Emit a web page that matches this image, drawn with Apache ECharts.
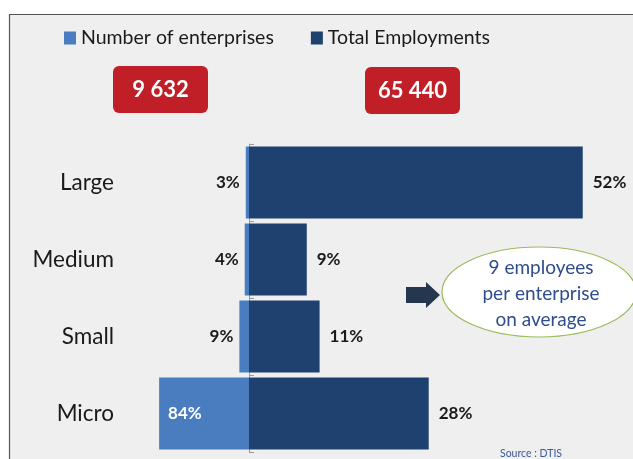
<!DOCTYPE html>
<html>
<head>
<meta charset="utf-8">
<script src="https://cdn.jsdelivr.net/npm/echarts@6/dist/echarts.min.js"></script>
<style>
  html, body { margin: 0; padding: 0; background: #ffffff; }
  #chart { width: 633px; height: 459px; }
</style>
</head>
<body>
<div id="chart"></div>
<script>
// Enterprise size classes, top to bottom
const categories = ['Large', 'Medium', 'Small', 'Micro'];
// Share of enterprises (%) per size class
const enterpriseShare = [3, 4, 9, 84];
// Share of total employment (%) per size class
const employmentShare = [52, 9, 11, 28];
// Headline totals shown under the legend
const totalEnterprises = '9 632';
const totalEmployments = '65 440';
const seriesNames = ['Number of enterprises', 'Total Employments'];
const noteLines = ['9 employees', 'per enterprise', 'on average'];
const sourceText = 'Source : DTIS';

const FONT = 'Lato, "Open Sans", sans-serif';
const LIGHT = '#4a7dc0';
const DARK = '#1e416f';
const TEXT = '#1a1a1a';

const chart = echarts.init(document.getElementById('chart'), null, { renderer: 'canvas' });

const gridTop = 144, gridBottom = 7;

const enterpriseData = enterpriseShare.map(function (v, i) {
  if (i === enterpriseShare.length - 1) {
    return { value: v, label: { position: 'insideLeft', color: '#ffffff', distance: 9 } };
  }
  return { value: v };
});

const option = {
  backgroundColor: '#ffffff',
  animation: false,
  textStyle: { fontFamily: FONT },
  legend: {
    top: 23,
    left: 59,
    icon: 'rect',
    itemWidth: 12,
    itemHeight: 13,
    itemGap: 37,
    textStyle: { fontSize: 19.5, color: TEXT, fontFamily: FONT },
    data: seriesNames
  },
  grid: [
    { left: 142, width: 107, top: gridTop, bottom: gridBottom },
    { left: 249, width: 353, top: gridTop, bottom: gridBottom }
  ],
  xAxis: [
    { gridIndex: 0, type: 'value', min: 0, max: 100, inverse: true, show: false },
    { gridIndex: 1, type: 'value', min: 0, max: 55, show: false }
  ],
  yAxis: [
    {
      gridIndex: 0, type: 'category', data: categories, inverse: true,
      axisLine: { show: false }, axisTick: { show: false },
      axisLabel: { margin: 28, fontSize: 22.5, color: TEXT, fontFamily: FONT }
    },
    {
      gridIndex: 1, type: 'category', data: categories, inverse: true, position: 'left',
      axisLine: { show: true, lineStyle: { color: '#9a9a9a', width: 1 } },
      axisTick: { show: true, inside: true, length: 5, lineStyle: { color: '#9a9a9a' } },
      axisLabel: { show: false }
    }
  ],
  series: [
    {
      name: seriesNames[0],
      type: 'bar',
      xAxisIndex: 0, yAxisIndex: 0,
      barCategoryGap: '6.5%',
      itemStyle: { color: LIGHT },
      label: {
        show: true, position: 'left', distance: 6,
        formatter: '{c}%', fontSize: 17, fontWeight: 'bold', color: TEXT, fontFamily: FONT
      },
      data: enterpriseData,
      z: 2
    },
    {
      name: seriesNames[1],
      type: 'bar',
      xAxisIndex: 1, yAxisIndex: 1,
      barCategoryGap: '6.5%',
      itemStyle: { color: DARK },
      label: {
        show: true, position: 'right', distance: 10,
        formatter: '{c}%', fontSize: 17, fontWeight: 'bold', color: TEXT, fontFamily: FONT
      },
      data: employmentShare,
      z: 3
    }
  ],
  graphic: [
    // panel background and frame
    {
      type: 'rect', z: -100, silent: true,
      shape: { x: 9.5, y: 14.5, width: 660, height: 480 },
      style: { fill: '#efefef', stroke: '#555555', lineWidth: 1.2 }
    },
    // headline totals
    {
      type: 'group', z: 100,
      children: [
        { type: 'rect', shape: { x: 113, y: 66, width: 95, height: 47, r: 6 }, style: { fill: '#c01f27' } },
        {
          type: 'text', x: 160.5, y: 90,
          style: { text: totalEnterprises, fill: '#ffffff', font: 'bold 22px ' + FONT, align: 'center', verticalAlign: 'middle' }
        },
        { type: 'rect', shape: { x: 365, y: 67, width: 95, height: 47, r: 6 }, style: { fill: '#c01f27' } },
        {
          type: 'text', x: 412.5, y: 91,
          style: { text: totalEmployments, fill: '#ffffff', font: 'bold 22px ' + FONT, align: 'center', verticalAlign: 'middle' }
        }
      ]
    },
    // arrow pointing at the note
    {
      type: 'polygon', z: 100,
      shape: { points: [[406, 287], [426, 287], [426, 282], [440, 295], [426, 308], [426, 303], [406, 303]] },
      style: { fill: '#25364f' }
    },
    // note bubble
    {
      type: 'ellipse', z: 100,
      shape: { cx: 539, cy: 292, rx: 97, ry: 45 },
      style: { fill: '#ffffff', stroke: '#9bbb59', lineWidth: 1.2 }
    },
    {
      type: 'text', z: 101, x: 541, y: 294,
      style: {
        text: noteLines.join('\n'), fill: '#2f4d8c', font: '19px ' + FONT,
        lineHeight: 26, align: 'center', verticalAlign: 'middle'
      }
    },
    {
      type: 'text', z: 101, x: 500, y: 454,
      style: { text: sourceText, fill: '#3b5b9b', font: '10.5px ' + FONT, verticalAlign: 'middle' }
    }
  ]
};

chart.setOption(option);
</script>
</body>
</html>
